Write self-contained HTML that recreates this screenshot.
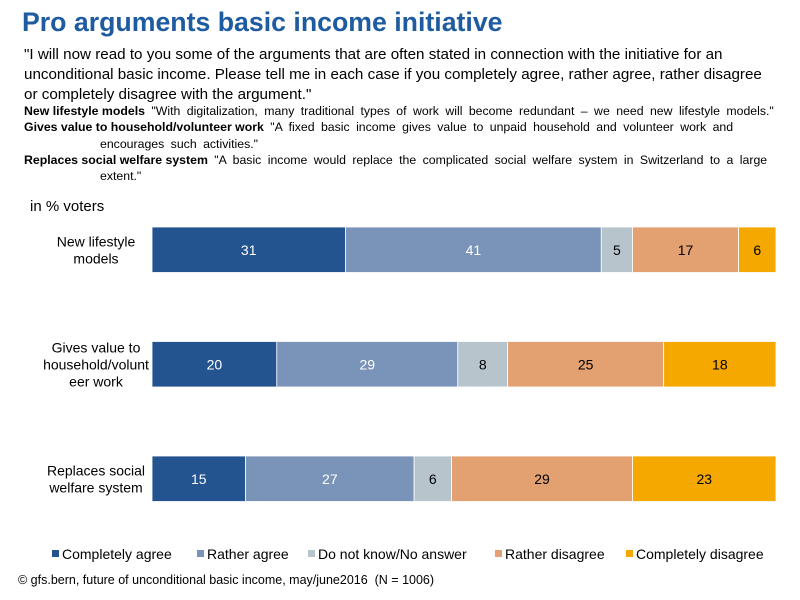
<!DOCTYPE html>
<html><head><meta charset="utf-8"><style>
body{margin:0;width:800px;height:600px;background:#fff;font-family:"Liberation Sans",sans-serif;position:relative;overflow:hidden}
.a{position:absolute;white-space:nowrap}
</style></head><body>
<div class="a" style="left:22px;top:7px;font-size:26.7px;font-weight:bold;color:#1f5ba0">Pro arguments basic income initiative</div>
<div class="a" style="left:24px;top:45px;font-size:15.2px;line-height:20px;color:#000">"I will now read to you some of the arguments that are often stated in connection with the initiative for an<br>unconditional basic income. Please tell me in each case if you completely agree, rather agree, rather disagree<br>or completely disagree with the argument."</div>
<div class="a" style="left:24px;top:103px;font-size:12.3px;line-height:16.3px;color:#000;word-spacing:3px">
<b style="word-spacing:0">New lifestyle models</b> "With digitalization, many traditional types of work will become redundant – we need new lifestyle models."<br>
<b style="word-spacing:0">Gives value to household/volunteer work</b> "A fixed basic income gives value to unpaid household and volunteer work and<br>
<span style="padding-left:76px">encourages such activities."</span><br>
<b style="word-spacing:0">Replaces social welfare system</b> "A basic income would replace the complicated social welfare system in Switzerland to a large<br>
<span style="padding-left:76px">extent."</span></div>
<div class="a" style="left:30px;top:198px;font-size:15px">in % voters</div>
<svg id="c" class="a" style="left:0;top:0" width="800" height="600"></svg>
<div class="a" style="left:18px;top:573px;font-size:12.5px">© gfs.bern, future of unconditional basic income, may/june2016 &nbsp;(N = 1006)</div>
<script>
const categories=["New lifestyle models","Gives value to household/volunteer work","Replaces social welfare system"];
const labelLines=[["New lifestyle","models"],["Gives value to","household/volunt","eer work"],["Replaces social","welfare system"]];
const seriesNames=["Completely agree","Rather agree","Do not know/No answer","Rather disagree","Completely disagree"];
const completelyAgree=[31,20,15];
const ratherAgree=[41,29,27];
const dontKnow=[5,8,6];
const ratherDisagree=[17,25,29];
const completelyDisagree=[6,18,23];
const colors=["#24548f","#7a93b8","#b7c4cc","#e3a071","#f5a800"];
const textColors=["#fff","#fff","#000","#000","#000"];
const series=[completelyAgree,ratherAgree,dontKnow,ratherDisagree,completelyDisagree];
const svg=document.getElementById('c');const NS="http://www.w3.org/2000/svg";
const x0=152,x1=776;const xs=v=>v/100*(x1-x0);
const rowY=i=>227+i*114.5,bh=45.5;
function mk(t,a){const e=document.createElementNS(NS,t);for(const k in a)e.setAttribute(k,a[k]);svg.appendChild(e);return e;}
categories.forEach((c,i)=>{
 let total=0;series.forEach(s=>total+=s[i]);
 let acc=0;const y=rowY(i);
 series.forEach((s,j)=>{
  const x=x0+xs(acc/total*100),w=xs(s[i]/total*100);
  const r=mk('rect',{x:x,y:y,width:w,height:bh,fill:colors[j],stroke:'#fff','stroke-width':0.8});
  
  
  const t=mk('text',{x:x+w/2,y:y+bh/2+5,'text-anchor':'middle','font-size':14,fill:textColors[j]});
  t.textContent=s[i];
  
  
  acc+=s[i];
 });
 const lines=labelLines[i];const cy=y+bh/2-(lines.length-1)*8.5+5;
 lines.forEach((l,k)=>{const t=mk('text',{x:96,y:cy+k*17,'text-anchor':'middle','font-size':14});t.textContent=l;
  
  });
});
const lx=[52,197,308,495,626];
seriesNames.forEach((n,j)=>{
 const r=mk('rect',{x:lx[j],y:550,width:7,height:7,fill:colors[j]});
 
 
 const t=mk('text',{x:lx[j]+10,y:559,'font-size':14});t.textContent=n;
 
 
});
</script>
</body></html>
